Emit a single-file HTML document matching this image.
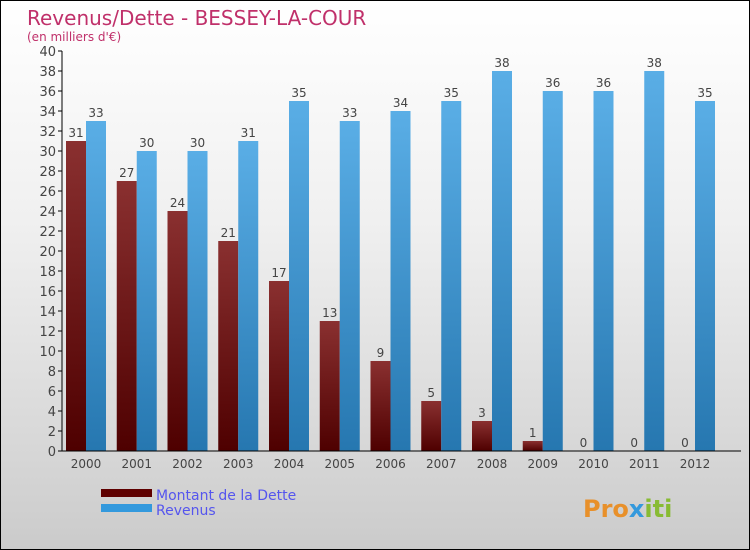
<!DOCTYPE html>
<html><head><meta charset="utf-8"><style>
body{margin:0}
#c{width:748px;height:548px;border:1px solid #000;background:linear-gradient(#fff,#f0f0f0 40%,#d8d8d8 80%,#cbcbcb);position:relative;font-family:"DejaVu Sans","Liberation Sans",sans-serif;overflow:hidden}
</style></head><body>
<div id="c">
<svg id="s" width="748" height="548">
<defs>
<linearGradient id="gd" x1="0" y1="0" x2="0" y2="1"><stop offset="0" stop-color="#8a3030"/><stop offset="1" stop-color="#4e0000"/></linearGradient>
<linearGradient id="gr" x1="0" y1="0" x2="0" y2="1"><stop offset="0" stop-color="#5aaee6"/><stop offset="1" stop-color="#2677b0"/></linearGradient>
</defs>
<text x="26" y="24" font-size="20" fill="#c0306a">Revenus/Dette - BESSEY-LA-COUR</text>
<text x="26" y="40" font-size="12" fill="#c0306a">(en milliers d'€)</text>
<g id="plot"></g>
<rect x="100" y="488" width="51" height="8" fill="#5e0000"/>
<rect x="100" y="503" width="51" height="8" fill="#3399dd"/>
<text x="155" y="499" font-size="14" fill="#5555ee">Montant de la Dette</text>
<text x="155" y="514" font-size="14" fill="#5555ee">Revenus</text>
<text x="582" y="516" font-size="24" font-weight="bold" fill="#e8902a">Pro<tspan fill="#3399dd">x</tspan><tspan fill="#88bb33">iti</tspan></text>
</svg>
</div>
<script>
const years=["2000","2001","2002","2003","2004","2005","2006","2007","2008","2009","2010","2011","2012"];
const dette=[31,27,24,21,17,13,9,5,3,1,0,0,0];
const revenus=[33,30,30,31,35,33,34,35,38,36,36,38,35];
const yTicks=[0,2,4,6,8,10,12,14,16,18,20,22,24,26,28,30,32,34,36,38,40];
const NS="http://www.w3.org/2000/svg";
const g=document.getElementById('plot');
const y=v=>450-v*10;
const xc=i=>85+i*50.75;
function mk(t,a,txt){const e=document.createElementNS(NS,t);for(const k in a)e.setAttribute(k,a[k]);if(txt!==undefined)e.textContent=txt;g.appendChild(e);return e;}
yTicks.forEach(v=>{
const l=mk('line',{x1:57,x2:61,y1:y(v),y2:y(v),stroke:'#000'});


const t=mk('text',{x:55,y:y(v)+5,'font-size':13,fill:'#444','text-anchor':'end'},v);


});
years.forEach((yr,i)=>{
const x=xc(i);
const b1=mk('rect',{x:x-20,y:y(dette[i]),width:20,height:dette[i]*10,fill:'url(#gd)'});


const b2=mk('rect',{x:x,y:y(revenus[i]),width:20,height:revenus[i]*10,fill:'url(#gr)'});


const t1=mk('text',{x:x-10,y:y(dette[i])-4,'font-size':12,fill:'#444','text-anchor':'middle'},dette[i]);


const t2=mk('text',{x:x+10,y:y(revenus[i])-4,'font-size':12,fill:'#444','text-anchor':'middle'},revenus[i]);


const t3=mk('text',{x:x,y:467,'font-size':12,fill:'#444','text-anchor':'middle'},yr);


});
const ax=mk('line',{x1:61,x2:61,y1:50,y2:450,stroke:'#000'});


const ax2=mk('line',{x1:61,x2:740,y1:450,y2:450,stroke:'#000'});


</script>
</body></html>
